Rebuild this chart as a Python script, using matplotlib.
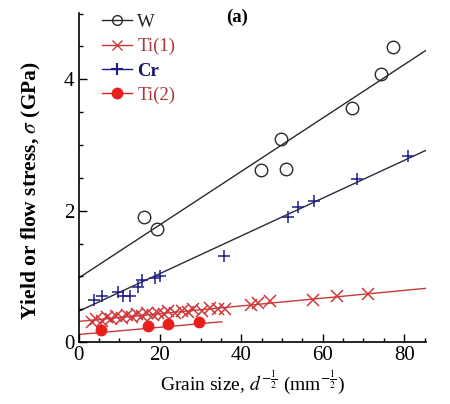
import numpy as np
import matplotlib
matplotlib.use("Agg")
import matplotlib.pyplot as plt
from matplotlib.ticker import MultipleLocator

plt.rcParams['font.family'] = ['Liberation Serif', 'DejaVu Serif']
plt.rcParams['mathtext.fontset'] = 'stix'

# ---- data ----
w_x = [16.1, 19.3, 44.9, 49.8, 51.0, 67.2, 74.3, 77.3]
w_y = [1.91, 1.72, 2.62, 3.09, 2.64, 3.56, 4.08, 4.49]

ti1_x = [3.2, 4.4, 5.7, 6.9, 8.0, 9.1, 10.6, 11.9, 13.1, 14.3, 15.5, 16.8,
         18.4, 19.6, 20.9, 22.1, 23.7, 25.4, 27.0, 28.2, 30.3, 32.3, 34.3,
         35.9, 42.4, 44.2, 47.0, 57.5, 63.5, 71.2]
ti1_y = [0.30, 0.36, 0.33, 0.38, 0.35, 0.40, 0.37, 0.41, 0.38, 0.43, 0.40, 0.44,
         0.41, 0.45, 0.43, 0.47, 0.44, 0.48, 0.46, 0.50, 0.47, 0.52, 0.50,
         0.51, 0.57, 0.59, 0.62, 0.64, 0.70, 0.74]

cr_x = [3.8, 5.8, 9.7, 10.9, 12.7, 14.6, 15.6, 18.8, 19.9, 35.8, 51.5, 53.9,
        57.9, 68.4, 81.0]
cr_y = [0.64, 0.70, 0.76, 0.71, 0.71, 0.84, 0.95, 0.97, 1.00, 1.31, 1.91, 2.05,
        2.15, 2.48, 2.83]

ti2_x = [5.5, 17.1, 22.0, 29.6]
ti2_y = [0.18, 0.24, 0.27, 0.31]

# fitted Hall-Petch lines: (intercept, slope, x_end)
fit_w = (0.975, 0.0406, 85.4)
fit_ti1 = (0.316, 0.0059, 85.4)
fit_cr = (0.47, 0.0287, 85.4)
fit_ti2 = (0.117, 0.0055, 35.2)

x_ticks = [0, 20, 40, 60, 80]
y_ticks = [0, 2, 4]

# ---- figure ----
fig = plt.figure(figsize=(4.5, 4.04), dpi=100)
ax = fig.add_axes([0.1745, 0.153, 0.7725, 0.815])

c_w = '#2a2a2a'
c_ti1 = '#d0393b'
c_cr = '#1e1e8a'
c_crline = '#2a2a3a'
c_ti2 = '#e8201c'
c_tiline = '#c83a3a'

def fitline(fit, color):
    b, m, xe = fit
    xs = np.array([0.0, xe])
    ax.plot(xs, b + m * xs, color=color, lw=1.0, zorder=1)

fitline(fit_w, c_w)
fitline(fit_cr, c_crline)
fitline(fit_ti1, c_tiline)
fitline(fit_ti2, c_tiline)

ax.plot(w_x, w_y, 'o', ms=9, mfc='none', mec=c_w, mew=1.0, zorder=3)
ax.plot(ti1_x, ti1_y, 'x', ms=8, color=c_ti1, mew=1.1, zorder=3)
ax.plot(cr_x, cr_y, '+', ms=9, color=c_cr, mew=1.1, zorder=3)
ax.plot(ti2_x, ti2_y, 'o', ms=7.5, color=c_ti2, mec=c_ti2, zorder=3)

# legend handles
h_w, = ax.plot([], [], '-o', color=c_w, ms=7, mfc='none', lw=1.0)
h_ti1, = ax.plot([], [], '-x', color=c_ti1, ms=7, lw=1.0)
h_cr, = ax.plot([], [], '-+', color=c_cr, ms=8, lw=1.0, mew=1.5)
h_ti2, = ax.plot([], [], '-o', color=c_ti2, ms=7.5, lw=1.0)
leg = ax.legend([h_w, h_ti1, h_cr, h_ti2], ['W', 'Ti(1)', 'Cr', 'Ti(2)'],
                loc='upper left', bbox_to_anchor=(0.045, 1.02), frameon=False,
                handlelength=1.6, handletextpad=0.3, labelspacing=0.38,
                fontsize=13.5, borderaxespad=0)
tcols = ['#222222', '#a83838', '#16166e', '#a83838']
for t, c in zip(leg.get_texts(), tcols):
    t.set_color(c)
leg.get_texts()[2].set_fontweight('bold')

ax.set_xlim(0, 85.4)
ax.set_ylim(0, 5.01)
ax.set_xticks(x_ticks)
ax.set_yticks(y_ticks)
ax.xaxis.set_minor_locator(MultipleLocator(5))
ax.yaxis.set_minor_locator(MultipleLocator(0.5))
ax.tick_params(which='both', direction='in', top=False, right=False,
               labelsize=15, width=1.0)
ax.tick_params(which='major', length=6, pad=3)
ax.tick_params(which='minor', length=3)
for s in ['top', 'right']:
    ax.spines[s].set_visible(False)
for s in ['left', 'bottom']:
    ax.spines[s].set_linewidth(1.2)

ax.set_xlabel(r'Grain size, $d^{-\frac{1}{2}}$ (mm$^{-\frac{1}{2}}$)', fontsize=14, labelpad=2)
ax.set_ylabel(r'Yield or flow stress, $\sigma$ (GPa)', fontsize=15.5,
              fontweight='bold')
ax.yaxis.set_label_coords(-0.103, 0.46)
ax.text(0.456, 1.012, '(a)', transform=ax.transAxes, ha='center', va='top',
        fontsize=13.5, fontweight='bold')

fig.savefig('out.png', dpi=100)
